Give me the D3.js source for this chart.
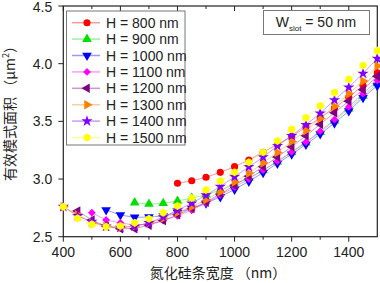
<!DOCTYPE html>
<html>
<head>
<meta charset="utf-8">
<title>有效模式面积</title>
<script src="https://d3js.org/d3.v7.min.js"></script>
<style>
  body { margin: 0; background: #fff; }
  .tick-label { font-family: "Liberation Sans", Arial, sans-serif; font-size: 14px; fill: #222; }
  .axis-title { font-family: "Noto Sans CJK SC", sans-serif; font-size: 14px; fill: #222; }
  .legend-text { font-family: "Liberation Sans", Arial, sans-serif; font-size: 14px; fill: #222; }
  .series-line { fill: none; stroke-width: 1; stroke-opacity: 0.4; }
</style>
</head>
<body>
<div id="chart"></div>
<script>
// silicon nitride strip width (nm)
const widths = [400, 450, 500, 550, 600, 650, 700, 750, 800, 850, 900, 950, 1000,
                1050, 1100, 1150, 1200, 1250, 1300, 1350, 1400, 1450, 1500];

// effective mode area (um^2), one array per height H, null where not computed
const h800  = [null, null, null, null, null, null, null, null, 2.963, 2.985, 3.015, 3.058, 3.107, 3.165, 3.232, 3.30, 3.37, 3.45, 3.53, 3.615, 3.71, 3.81, 3.92];
const h900  = [null, null, null, null, null, 2.795, 2.783, 2.79, 2.81, 2.835, 2.865, 2.905, 2.95, 3.01, 3.075, 3.15, 3.23, 3.315, 3.405, 3.505, 3.61, 3.72, 3.83];
const h1000 = [null, null, null, 2.732, 2.688, 2.668, 2.67, 2.68, 2.71, 2.745, 2.79, 2.845, 2.91, 2.98, 3.055, 3.135, 3.215, 3.30, 3.39, 3.485, 3.59, 3.705, 3.81];
const h1100 = [null, null, 2.708, 2.645, 2.62, 2.60, 2.61, 2.64, 2.68, 2.73, 2.79, 2.86, 2.93, 3.0, 3.078, 3.155, 3.235, 3.32, 3.415, 3.515, 3.625, 3.74, 3.855];
const h1200 = [null, 2.723, 2.645, 2.59, 2.57, 2.57, 2.60, 2.64, 2.69, 2.745, 2.80, 2.87, 2.945, 3.025, 3.107, 3.19, 3.28, 3.375, 3.475, 3.575, 3.675, 3.775, 3.89];
const h1300 = [2.76, 2.69, 2.62, 2.59, 2.58, 2.59, 2.62, 2.66, 2.71, 2.76, 2.82, 2.89, 2.975, 3.05, 3.14, 3.23, 3.325, 3.42, 3.525, 3.63, 3.74, 3.85, 3.98];
const h1400 = [2.76, 2.68, 2.63, 2.59, 2.58, 2.59, 2.62, 2.67, 2.73, 2.79, 2.86, 2.935, 3.02, 3.105, 3.19, 3.287, 3.375, 3.47, 3.57, 3.685, 3.795, 3.915, 4.045];
const h1500 = [2.76, 2.66, 2.607, 2.587, 2.593, 2.62, 2.656, 2.708, 2.766, 2.835, 2.905, 2.983, 3.058, 3.145, 3.232, 3.33, 3.432, 3.532, 3.635, 3.75, 3.865, 3.985, 4.113];

const seriesNames = ["H = 800 nm", "H = 900 nm", "H = 1000 nm", "H = 1100 nm",
                     "H = 1200 nm", "H = 1300 nm", "H = 1400 nm", "H = 1500 nm"];
const seriesValues = [h800, h900, h1000, h1100, h1200, h1300, h1400, h1500];
const seriesColors = ["#ff0000", "#00e000", "#0000ff", "#ff00ff", "#800080", "#ff8000", "#8000ff", "#ffff00"];

const xTicks = [400, 600, 800, 1000, 1200, 1400];
const xMinorTicks = [500, 700, 900, 1100, 1300, 1500];
const yTicks = [2.5, 3.0, 3.5, 4.0, 4.5];

const width = 380, height = 283;
const plot = { left: 63.3, right: 377.3, top: 6, bottom: 236.7 };

const svg = d3.select("#chart").append("svg")
  .attr("width", width).attr("height", height);

const x = d3.scaleLinear().domain([400, 1500]).range([plot.left, plot.right]);
const y = d3.scaleLinear().domain([2.5, 4.5]).range([plot.bottom, plot.top]);

// marker shapes
const hexagon = {
  draw(ctx, size) {
    const r = Math.sqrt(size / (1.5 * Math.sqrt(3)));
    for (let i = 0; i < 6; i++) {
      const a = Math.PI / 6 + i * Math.PI / 3;
      const px = r * Math.cos(a), py = r * Math.sin(a);
      if (i === 0) ctx.moveTo(px, py); else ctx.lineTo(px, py);
    }
    ctx.closePath();
  }
};
const markers = [
  { type: d3.symbolCircle, size: 40, rot: 0 },
  { type: d3.symbolTriangle, size: 40, rot: 0 },
  { type: d3.symbolTriangle, size: 40, rot: 180 },
  { type: d3.symbolSquare, size: 30, rot: 45 },
  { type: d3.symbolTriangle, size: 40, rot: -90 },
  { type: d3.symbolTriangle, size: 40, rot: 90 },
  { type: d3.symbolStar, size: 40, rot: 0 },
  { type: hexagon, size: 42, rot: 0 }
];

// frame
svg.append("rect")
  .attr("x", plot.left).attr("y", plot.top)
  .attr("width", plot.right - plot.left).attr("height", plot.bottom - plot.top)
  .attr("fill", "none").attr("stroke", "#222").attr("stroke-width", 1.2);

// bottom axis ticks (outward) and top ticks (inward)
const allX = xTicks.concat(xMinorTicks).filter(d => d < 1500);
svg.append("g").selectAll("line").data(allX).enter().append("line")
  .attr("x1", d => x(d)).attr("x2", d => x(d))
  .attr("y1", plot.bottom).attr("y2", d => plot.bottom + (xTicks.includes(d) ? 5 : 3))
  .attr("stroke", "#222");
svg.append("g").selectAll("line").data(allX).enter().append("line")
  .attr("x1", d => x(d)).attr("x2", d => x(d))
  .attr("y1", plot.top).attr("y2", d => plot.top + (xTicks.includes(d) ? 5 : 3))
  .attr("stroke", "#222");
svg.append("g").selectAll("text").data(xTicks).enter().append("text")
  .attr("class", "tick-label")
  .attr("x", d => x(d)).attr("y", plot.bottom + 20)
  .attr("text-anchor", "middle")
  .text(d => d);

// left axis ticks
svg.append("g").selectAll("line").data(yTicks).enter().append("line")
  .attr("x1", plot.left - 5).attr("x2", plot.left)
  .attr("y1", d => y(d)).attr("y2", d => y(d))
  .attr("stroke", "#222");
svg.append("g").selectAll("text").data(yTicks).enter().append("text")
  .attr("class", "tick-label")
  .attr("x", plot.left - 11).attr("y", d => Math.max(y(d) + 5, 12))
  .attr("text-anchor", "end")
  .text(d => d.toFixed(1));

// axis titles
svg.append("text").attr("class", "axis-title")
  .attr("x", 218).attr("y", 278)
  .attr("text-anchor", "middle")
  .text("氮化硅条宽度 （nm）");

const yTitle = svg.append("text").attr("class", "axis-title")
  .attr("transform", "translate(15,110) rotate(-90)")
  .attr("text-anchor", "middle")
  .attr("font-size", 15);
yTitle.append("tspan").text("有效模式面积 （μm");
yTitle.append("tspan").attr("font-size", 9).attr("dy", -6).text("2");
yTitle.append("tspan").attr("dy", 6).text("）");

// series
const line = d3.line()
  .defined(d => d.v !== null)
  .x(d => x(d.w)).y(d => y(d.v));

seriesValues.forEach((vals, i) => {
  const pts = widths.map((w, j) => ({ w: w, v: vals[j] }));
  const g = svg.append("g");
  g.append("path").datum(pts)
    .attr("class", "series-line")
    .attr("stroke", seriesColors[i])
    .attr("d", line);
  const m = markers[i];
  g.selectAll("path.marker").data(pts.filter(d => d.v !== null)).enter().append("path")
    .attr("class", "marker")
    .attr("d", d3.symbol().type(m.type).size(m.size))
    .attr("transform", d => `translate(${x(d.w)},${y(d.v)}) rotate(${m.rot})`)
    .attr("fill", seriesColors[i]);
});

// legend
const legend = svg.append("g");
legend.append("rect")
  .attr("x", 66.5).attr("y", 11).attr("width", 118.5).attr("height", 134)
  .attr("fill", "#fff").attr("stroke", "#777").attr("stroke-width", 1);
seriesNames.forEach((name, i) => {
  const ry = 22.7 + i * 16.4;
  legend.append("line")
    .attr("x1", 72).attr("x2", 100).attr("y1", ry).attr("y2", ry)
    .attr("stroke", seriesColors[i]).attr("stroke-opacity", 0.4).attr("stroke-width", 1.5);
  const m = markers[i];
  legend.append("path")
    .attr("d", d3.symbol().type(m.type).size(m.size))
    .attr("transform", `translate(87,${ry}) rotate(${m.rot})`)
    .attr("fill", seriesColors[i]);
  legend.append("text").attr("class", "legend-text")
    .attr("x", 106).attr("y", ry + 5)
    .text(name);
});

// slot width annotation
svg.append("rect")
  .attr("x", 263.5).attr("y", 10.5).attr("width", 106).attr("height", 24)
  .attr("fill", "#fff").attr("stroke", "#777").attr("stroke-width", 1);
const note = svg.append("text").attr("class", "legend-text")
  .attr("x", 316).attr("y", 27).attr("text-anchor", "middle").attr("font-size", 15);
note.append("tspan").text("W");
note.append("tspan").attr("font-size", 8).attr("dy", 4).text("slot");
note.append("tspan").attr("dy", -4).text(" = 50 nm");
</script>
</body>
</html>
